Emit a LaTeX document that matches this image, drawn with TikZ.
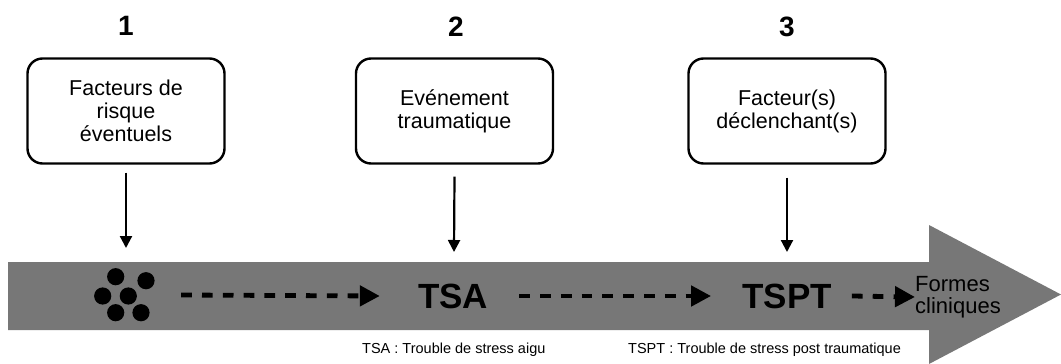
\documentclass[tikz,border=0pt]{standalone}
\usepackage{fontspec}
\setmainfont{Liberation Sans}
\usetikzlibrary{arrows.meta}
\definecolor{bargray}{HTML}{777777}
\tikzset{
  x=1pt,y=-1pt,
  stepbox/.style={draw=black,line width=2.4pt,rounded corners=15pt,minimum width=197pt,minimum height=105pt,align=center,font=\fontsize{21.5}{23}\selectfont,inner sep=0pt},
  num/.style={font=\fontsize{28}{30}\selectfont\bfseries,inner sep=0pt},
  big/.style={font=\fontsize{35}{37}\selectfont\bfseries,inner sep=0pt},
  legend/.style={font=\fontsize{14.5}{16}\selectfont,inner sep=0pt},
  down/.style={line width=2.2pt,-{Triangle[length=12pt,width=12pt]}},
  dasharrow/.style={line width=4.8pt,dash pattern=on 10.7pt off 10.1pt,-{Triangle[length=20pt,width=20pt]}},
  dot/.style={fill=black,draw=none}
}
\begin{document}
\begin{tikzpicture}
\useasboundingbox (0,0) rectangle (1061,364);
% big arrow
\fill[bargray] (8,262) -- (929,262) -- (929,225) -- (1061,294.5) -- (929,364) -- (929,330) -- (8,330) -- cycle;
% numbers
\node[num] (n1) at (126,26) {1};
\node[num] (n2) at (456,27) {2};
\node[num] (n3) at (787,27) {3};
% boxes
\node[stepbox] (b1) at (126,111) {Facteurs de\\risque\\éventuels};
\node[stepbox] (b2) at (454.5,111) {Evénement\\traumatique};
\node[stepbox] (b3) at (787,111) {Facteur(s)\\déclenchant(s)};
% cluster of dots
\node[minimum width=48pt,minimum height=46pt,inner sep=0pt] (cl) at (122,295) {};
\foreach \px/\py in {115.7/276.7,146/280.7,102.7/296,128.3/296,115.7/312.7,141/312.7}
  \fill[dot] (\px,\py) circle (8.6);
\coordinate (c1) at (126,248);
\coordinate (c2) at (454,252);
\coordinate (c3) at (787,252);
% stage labels
\node[big] (tsa) at (453,296) {TSA};
\node[big] (tspt) at (787,296) {TSPT};
\node[font=\fontsize{22}{22}\selectfont,align=left,inner sep=0pt,anchor=west] (fc) at (915,297) {Formes\\cliniques};
% vertical arrows
\draw[down] ([yshift=-8pt]b1.south) -- (c1);
\draw[down] ([yshift=-12pt]b2.south) -- (c2);
\draw[down] ([yshift=-13pt]b3.south) -- (c3);
% dashed arrows
\draw[dasharrow] ([xshift=35pt]cl.east) -- ([xshift=-38pt]tsa.west);
\draw[dasharrow] ([xshift=31pt]tsa.east) -- ([xshift=-31pt]tspt.west);
\draw[dasharrow] ([xshift=20pt]tspt.east) -- (fc.west);
% legends
\node[legend,anchor=west] (l1) at (362,350) {TSA : Trouble de stress aigu};
\node[legend,anchor=west] (l2) at (628,350) {TSPT : Trouble de stress post traumatique};
\end{tikzpicture}
\end{document}
